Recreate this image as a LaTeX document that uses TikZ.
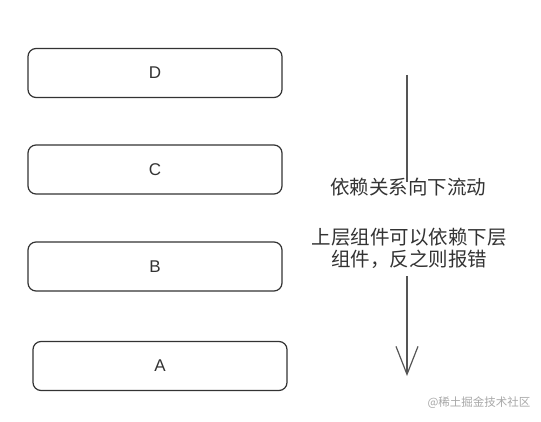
\documentclass[tikz,border=0pt]{standalone}
\usepackage{fontspec}
\newfontfamily\cjk{Noto Sans CJK SC}
\newfontfamily\hand{Liberation Sans}
\usetikzlibrary{arrows.meta}
\definecolor{inkgray}{HTML}{333333}
\definecolor{arrowgray}{HTML}{555555}
\definecolor{markgray}{HTML}{A8A8A8}
\tikzset{
    layer/.style={draw=inkgray,line width=1.2pt,rounded corners=8pt,
        minimum width=254pt,minimum height=49pt,inner sep=0pt,
        font=\hand\fontsize{17}{20}\selectfont,text=inkgray},
    note/.style={font=\cjk\fontsize{19.5}{23}\selectfont,text=inkgray,
        align=center,inner sep=0pt}
}
\begin{document}
\begin{tikzpicture}[x=1pt,y=-1pt]
    \useasboundingbox[fill=white] (0,0) rectangle (541,422);
    % Capas
    \node[layer] (D) at (155,73) {D};
    \node[layer] (C) at (155,169.5) {C};
    \node[layer] (B) at (155,266.5) {B};
    \node[layer] (A) at (160,366) {A};

    % Flecha y textos
    \node[note] (flow) at (408,187) {依赖关系向下流动};
    \node[note,text width=210pt] (rule) at (409,248) {上层组件可以依赖下层\\[-1pt]组件，反之则报错};
    \coordinate (top) at (407,75);
    \coordinate (tip) at (407,376);

    \draw[arrowgray,line width=1.2pt] (top) -- ([yshift=-4pt]flow.north -| top);
    \draw[arrowgray,line width=1.2pt,-{Straight Barb[length=28pt,width=22pt]}]
        ([yshift=-8pt]rule.south -| top) -- (tip);

    \node[font=\cjk\fontsize{11.5}{14}\selectfont,text=markgray,inner sep=0pt]
        (mark) at (479,403) {@稀土掘金技术社区};
\end{tikzpicture}
\end{document}
